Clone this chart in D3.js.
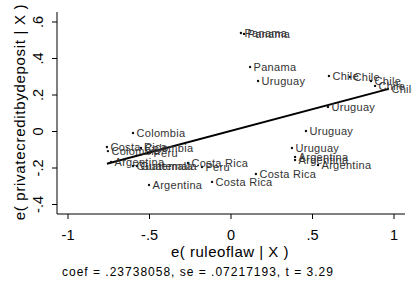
<!DOCTYPE html>
<html><head><meta charset="utf-8">
<script src="https://cdn.jsdelivr.net/npm/d3@7"></script>
<style>body{margin:0;background:#fff}svg{display:block}text{font-family:"Liberation Sans",Arial,Helvetica,sans-serif}</style>
</head><body><svg id="c" width="412" height="284"></svg>
<script>
const labels = ["Panama","Panama","Panama","Uruguay","Chile","Chile","Chile","Chile","Chile","Uruguay","Uruguay","Uruguay","Argentina","Argentina","Argentina","Costa Rica","Costa Rica","Argentina","Peru","Costa Rica","Colombia","Costa Rica","Colombia","Argentina","Colombia","Peru","Guatemala","Guatemala"];
const xVals = [0.064,0.083,0.120,0.169,0.604,0.733,0.862,0.887,0.966,0.598,0.463,0.377,0.396,0.396,0.537,0.156,-0.113,-0.500,-0.175,-0.261,-0.598,-0.758,-0.752,-0.733,-0.549,-0.494,-0.598,-0.574];
const yVals = [0.537,0.532,0.351,0.274,0.301,0.296,0.274,0.247,0.230,0.132,0.000,-0.093,-0.142,-0.159,-0.186,-0.236,-0.279,-0.296,-0.197,-0.175,-0.011,-0.088,-0.110,-0.170,-0.093,-0.121,-0.192,-0.192];
const xTicks = [-1,-0.5,0,0.5,1];
const yTicks = [-0.4,-0.2,0,0.2,0.4,0.6];
const coef = 0.23738058;
const xTitle = "e( ruleoflaw | X )";
const yTitle = "e( privatecreditbydeposit | X )";
const note = "coef = .23738058, se = .07217193, t = 3.29";

const fmt = v => v===0 ? "0" : (v<0?"-":"") + String(Math.abs(v)).replace(/^0/,"");
const svg = d3.select("#c");
const x = d3.scaleLinear().domain([-1,1]).range([67.5,393.5]);
const y = d3.scaleLinear().domain([-0.4,0.6]).range([204,21.5]);

// axes
const xa = svg.append("g").attr("transform","translate(0,214)")
  .call(d3.axisBottom(x).tickValues(xTicks).tickFormat(fmt).tickSize(5).tickPadding(11));
xa.select(".domain").remove();
xa.append("line").attr("x1",57).attr("x2",405).attr("stroke","#000");
xa.selectAll("text").attr("font-size",14.5).attr("fill","#000");
const ya = svg.append("g").attr("transform","translate(57,0)")
  .call(d3.axisLeft(y).tickValues(yTicks).tickFormat(fmt).tickSize(5).tickPadding(0));
ya.select(".domain").remove();
ya.append("line").attr("y1",12).attr("y2",214).attr("stroke","#000");
ya.selectAll("text").attr("font-size",14.5).attr("fill","#000")
  .attr("text-anchor","middle").attr("dy",null).attr("x",null)
  .attr("transform","translate(-14,0) rotate(-90)");

// fit line
const ext = d3.extent(xVals);
svg.append("line").attr("x1",x(ext[0])).attr("y1",y(coef*ext[0]))
  .attr("x2",x(ext[1])).attr("y2",y(coef*ext[1]))
  .attr("stroke","#000").attr("stroke-width",2);

// points and labels
const data = labels.map((l,i)=>({l,x:xVals[i],y:yVals[i]}));
const g = svg.append("g");
g.selectAll("circle").data(data).join("circle")
  .attr("cx",d=>x(d.x)).attr("cy",d=>y(d.y)).attr("r",1.2).attr("fill","#111");
g.selectAll("text").data(data).join("text")
  .attr("x",d=>x(d.x)+3.5).attr("y",d=>y(d.y)+4).attr("font-size",11)
  .attr("letter-spacing",0.3).attr("fill","#333")
  .text(d=>d.l);

// titles
svg.append("text").attr("x",230).attr("y",257).attr("text-anchor","middle")
  .attr("font-size",15).attr("letter-spacing",0.5).text(xTitle);
svg.append("text").attr("transform","translate(25,112) rotate(-90)").attr("text-anchor","middle")
  .attr("font-size",15).attr("letter-spacing",0.7).text(yTitle);
svg.append("text").attr("x",62).attr("y",276).attr("font-size",12)
  .attr("letter-spacing",1).text(note);
</script></body></html>
